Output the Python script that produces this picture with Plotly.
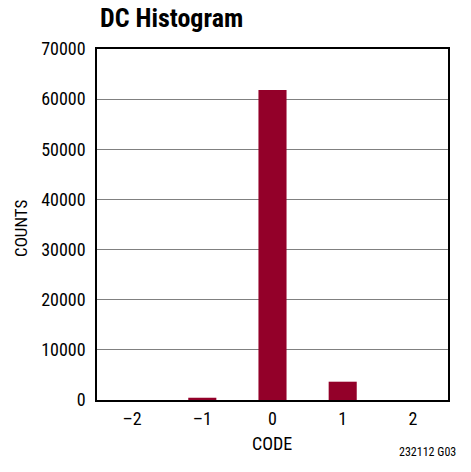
import plotly.graph_objects as go

codes = [-2, -1, 0, 1, 2]
counts = [0, 450, 61800, 3650, 0]
tick_labels = ["\u20132", "\u20131", "0", "1", "2"]
y_ticks = [0, 10000, 20000, 30000, 40000, 50000, 60000, 70000]

FONT = "Roboto Condensed, Liberation Sans, sans-serif"
W, H = 471, 472
L, R, T, B = 97, 23, 49, 72
PW, PH = W - L - R, H - T - B

fig = go.Figure()
fig.add_trace(go.Bar(
    x=codes, y=counts, width=0.4,
    marker=dict(color="#930029", line=dict(width=0)),
    hoverinfo="skip",
))

fig.update_layout(
    width=W, height=H,
    margin=dict(l=L, r=R, t=T, b=B, autoexpand=False),
    paper_bgcolor="white", plot_bgcolor="white",
    showlegend=False,
    font=dict(family=FONT, size=18, color="black"),
    title=dict(text="<b>DC Histogram</b>", x=100/W, xanchor="left",
               y=1 - 18/H, yanchor="middle",
               font=dict(family=FONT, size=26, color="black")),
)
fig.update_xaxes(
    range=[-2.5, 2.5], tickmode="array", tickvals=codes, ticktext=tick_labels,
    showgrid=False, zeroline=False, showline=True, mirror=True,
    linecolor="black", linewidth=1.5,
    ticks="outside", ticklen=2, tickcolor="rgba(0,0,0,0)",
    tickfont=dict(size=18),
)
fig.update_yaxes(
    range=[0, 70000], tickmode="array", tickvals=y_ticks,
    ticktext=[str(v) for v in y_ticks],
    showgrid=True, gridcolor="#808080", gridwidth=1, zeroline=False,
    showline=True, mirror=True, linecolor="black", linewidth=1.5,
    ticks="outside", ticklen=6, tickcolor="rgba(0,0,0,0)",
    tickfont=dict(size=18),
)
fig.add_annotation(text="CODE", xref="paper", yref="paper",
                   x=(272 - L) / PW, y=-(443 - T - PH) / PH,
                   xanchor="center", yanchor="middle", showarrow=False,
                   font=dict(size=18, family=FONT))
fig.add_annotation(text="COUNTS", xref="paper", yref="paper",
                   x=(21 - L) / PW, y=(T + PH - 229) / PH, textangle=-90,
                   xanchor="center", yanchor="middle", showarrow=False,
                   font=dict(size=17, family=FONT))
fig.add_annotation(text="232112 G03", xref="paper", yref="paper",
                   x=(458 - L) / PW, y=-(452 - T - PH) / PH,
                   xanchor="right", yanchor="middle", showarrow=False,
                   font=dict(size=12, family=FONT))

fig.write_html("out.html", config={"displayModeBar": False},
               post_script="document.body.style.margin='0';")
